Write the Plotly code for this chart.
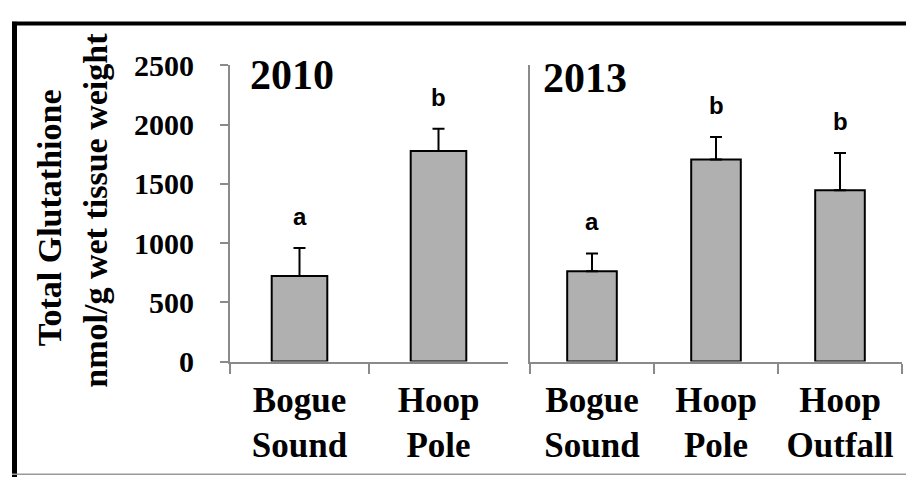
import plotly.graph_objects as go

W, H = 906, 494

# ---- data ----
categories_2010 = ["Bogue Sound", "Hoop Pole"]
means_2010 = [723, 1777]
errors_2010 = [236, 188]
letters_2010 = ["a", "b"]

categories_2013 = ["Bogue Sound", "Hoop Pole", "Hoop Outfall"]
means_2013 = [763, 1706, 1447]
errors_2013 = [150, 190, 314]
letters_2013 = ["a", "b", "b"]

y_ticks = [0, 500, 1000, 1500, 2000, 2500]
panel_titles = ["2010", "2013"]
y_title_lines = ["Total Glutathione", "nmol/g wet tissue weight"]


def px_x(p):
    return p / W


def px_y(p):
    return 1 - p / H


SERIF = "Liberation Serif, Times New Roman, serif"
SANS = "Liberation Sans, Arial, sans-serif"
AXIS_GRAY = "#8a8a8a"
BAR_GRAY = "#b0b0b0"

fig = go.Figure()


def add_bars(cats, means, errs, xa, ya):
    fig.add_trace(go.Bar(
        x=cats, y=means, width=0.4, xaxis=xa, yaxis=ya,
        marker=dict(color=BAR_GRAY, line=dict(color="black", width=2)),
        error_y=dict(type="data", array=errs, arrayminus=[0] * len(errs),
                     symmetric=False, color="black", thickness=2, width=6),
        showlegend=False, hoverinfo="skip",
    ))


add_bars(categories_2010, means_2010, errors_2010, "x", "y")
add_bars(categories_2013, means_2013, errors_2013, "x2", "y2")

ydom = [px_y(370), px_y(52)]

xaxis_common = dict(
    type="category", showline=True, linecolor=AXIS_GRAY, linewidth=2,
    ticks="outside", tickson="boundaries", ticklen=10, tickcolor=AXIS_GRAY,
    tickwidth=2, showgrid=False, zeroline=False, ticklabelstandoff=6,
    tickfont=dict(family=SERIF, size=35, color="black", weight="bold"),
)

fig.update_layout(
    width=W, height=H, margin=dict(l=0, r=0, t=0, b=0),
    paper_bgcolor="white", plot_bgcolor="white",
    xaxis=dict(domain=[px_x(230), px_x(508)], range=[-0.5, 1.5], anchor="y",
               tickvals=categories_2010,
               ticktext=[c.replace(" ", "<br>") for c in categories_2010],
               **xaxis_common),
    xaxis2=dict(domain=[px_x(530), px_x(902)], range=[-0.5, 2.5], anchor="y2",
                tickvals=categories_2013,
                ticktext=[c.replace(" ", "<br>") for c in categories_2013],
                **xaxis_common),
    yaxis=dict(domain=ydom, range=[0, 2500], anchor="x", tickvals=y_ticks,
               showline=True, linecolor=AXIS_GRAY, linewidth=2,
               ticks="outside", ticklen=8, tickcolor=AXIS_GRAY, tickwidth=2,
               showgrid=False, zeroline=False, ticklabelstandoff=20,
               tickfont=dict(family=SERIF, size=30, color="black", weight="bold")),
    yaxis2=dict(domain=ydom, range=[0, 2500], anchor="x2",
                showline=True, linecolor=AXIS_GRAY, linewidth=2,
                ticks="", showticklabels=False, showgrid=False, zeroline=False),
)

annotations = []
# significance letters
for cats, means, errs, letters, xr, yr in [
    (categories_2010, means_2010, errors_2010, letters_2010, "x", "y"),
    (categories_2013, means_2013, errors_2013, letters_2013, "x2", "y2"),
]:
    for c, m, e, l in zip(cats, means, errs, letters):
        annotations.append(dict(
            x=c, y=m + e, xref=xr, yref=yr, text=l, showarrow=False,
            yanchor="bottom", yshift=16,
            font=dict(family=SANS, size=24, color="black", weight="bold")))

# panel titles
annotations.append(dict(x=px_x(248), y=px_y(62), xref="paper", yref="paper",
                        text=panel_titles[0], showarrow=False,
                        xanchor="left", yanchor="middle",
                        font=dict(family=SERIF, size=42, color="black",
                                  weight="bold")))
annotations.append(dict(x=px_x(541), y=px_y(66), xref="paper", yref="paper",
                        text=panel_titles[1], showarrow=False,
                        xanchor="left", yanchor="middle",
                        font=dict(family=SERIF, size=42, color="black",
                                  weight="bold")))

# y-axis title (two lines)
annotations.append(dict(x=px_x(49), y=px_y(216), xref="paper", yref="paper",
                        text=y_title_lines[0], showarrow=False,
                        textangle=-90, xanchor="center", yanchor="middle",
                        font=dict(family=SERIF, size=34, color="black",
                                  weight="bold")))
annotations.append(dict(x=px_x(96), y=px_y(208), xref="paper", yref="paper",
                        text=y_title_lines[1], showarrow=False,
                        textangle=-90, xanchor="center", yanchor="middle",
                        font=dict(family=SERIF, size=34, color="black",
                                  weight="bold")))

fig.update_layout(annotations=annotations)

# outer frame
fig.add_shape(type="line", xref="paper", yref="paper",
              x0=px_x(12), x1=1, y0=px_y(7), y1=px_y(7),
              line=dict(color="black", width=4))
fig.add_shape(type="line", xref="paper", yref="paper",
              x0=px_x(14.5), x1=px_x(14.5), y0=px_y(5), y1=0,
              line=dict(color="black", width=5))
fig.add_shape(type="line", xref="paper", yref="paper",
              x0=px_x(12), x1=1, y0=px_y(491), y1=px_y(491),
              line=dict(color="#999999", width=1.5))

fig.write_html(
    "out.html",
    config={"displayModeBar": False},
    post_script="document.body.style.margin='0';"
                "document.body.style.overflow='hidden';",
)
